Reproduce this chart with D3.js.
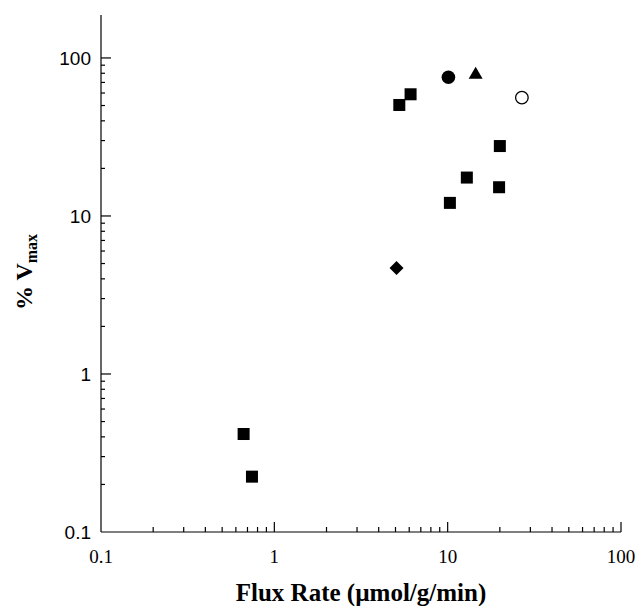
<!DOCTYPE html>
<html>
<head>
<meta charset="utf-8">
<script src="https://cdn.jsdelivr.net/npm/d3@7"></script>
<style>
  body { margin: 0; background: #fff; }
  svg { display: block; }
</style>
</head>
<body>
<div id="chart"></div>
<script>
// data (flux rate, % Vmax)
var squareFlux = [0.665, 0.743, 5.26, 6.11, 10.3, 12.9, 19.8, 20.0];
var squareVmax = [0.417, 0.224, 50.4, 58.9, 12.1, 17.5, 15.2, 27.7];
var filledCircleFlux = [10.1];
var filledCircleVmax = [75.5];
var triangleFlux = [14.5];
var triangleVmax = [80];
var openCircleFlux = [26.8];
var openCircleVmax = [56.1];
var diamondFlux = [5.07];
var diamondVmax = [4.69];

var xTicks = [0.1, 1, 10, 100];
var yTicks = [0.1, 1, 10, 100];

var width = 637, height = 606;

var svg = d3.select('#chart').append('svg')
  .attr('width', width)
  .attr('height', height);

var x = d3.scaleLog().domain([0.1, 100]).range([101, 621]);
var y = d3.scaleLog().domain([0.1, 187]).range([532, 15]);

// minor ticks 2..9 for each decade
function minors(lo, hi) {
  var out = [];
  for (var d = lo; d < hi; d *= 10) {
    for (var k = 2; k <= 9; k++) out.push(d * k);
  }
  return out;
}

var axes = svg.append('g').attr('stroke', '#000').attr('stroke-width', 1.2);

// axis lines
axes.append('line')
  .attr('x1', x(0.1)).attr('x2', x(0.1))
  .attr('y1', y.range()[1]).attr('y2', y(0.1));
axes.append('line')
  .attr('x1', x(0.1)).attr('x2', x(100))
  .attr('y1', y(0.1)).attr('y2', y(0.1));

// y ticks (pointing inward)
axes.selectAll('.ymaj').data(yTicks.slice(1)).enter().append('line')
  .attr('x1', x(0.1)).attr('x2', x(0.1) + 10)
  .attr('y1', function (d) { return y(d); })
  .attr('y2', function (d) { return y(d); });
axes.selectAll('.ymin').data(minors(0.1, 100)).enter().append('line')
  .attr('x1', x(0.1)).attr('x2', x(0.1) + 4)
  .attr('y1', function (d) { return y(d); })
  .attr('y2', function (d) { return y(d); });

// x ticks
axes.selectAll('.xmaj').data(xTicks.slice(1)).enter().append('line')
  .attr('x1', function (d) { return x(d); })
  .attr('x2', function (d) { return x(d); })
  .attr('y1', y(0.1)).attr('y2', y(0.1) - 10);
axes.selectAll('.xmin').data(minors(0.1, 100)).enter().append('line')
  .attr('x1', function (d) { return x(d); })
  .attr('x2', function (d) { return x(d); })
  .attr('y1', y(0.1)).attr('y2', y(0.1) - 5);

// tick labels
var fmt = function (d) { return d < 1 ? '0.1' : String(d); };
svg.selectAll('.ylab').data(yTicks).enter().append('text')
  .attr('x', 91)
  .attr('y', function (d) { return y(d) + 7; })
  .attr('text-anchor', 'end')
  .attr('font-family', 'Liberation Sans, Arial, sans-serif')
  .attr('font-size', 19)
  .text(fmt);

svg.selectAll('.xlab').data(xTicks).enter().append('text')
  .attr('x', function (d) { return x(d); })
  .attr('y', 563)
  .attr('text-anchor', 'middle')
  .attr('font-family', 'Liberation Serif, Times New Roman, serif')
  .attr('font-size', 19)
  .text(fmt);

// axis titles
svg.append('text')
  .attr('x', 361).attr('y', 601)
  .attr('text-anchor', 'middle')
  .attr('font-family', 'Liberation Serif, Times New Roman, serif')
  .attr('font-weight', 'bold')
  .attr('font-size', 25)
  .text('Flux Rate (\u00b5mol/g/min)');

var yt = svg.append('text')
  .attr('transform', 'translate(32,272) rotate(-90)')
  .attr('text-anchor', 'middle')
  .attr('font-family', 'Liberation Serif, Times New Roman, serif')
  .attr('font-weight', 'bold')
  .attr('font-size', 24);
yt.append('tspan').text('% V');
yt.append('tspan').attr('dy', 5).attr('font-size', 16).text('max');

// markers
var pts = svg.append('g');
function zip(a, b) { return a.map(function (v, i) { return [v, b[i]]; }); }

pts.selectAll('.sq').data(zip(squareFlux, squareVmax)).enter().append('rect')
  .attr('x', function (d) { return x(d[0]) - 6; })
  .attr('y', function (d) { return y(d[1]) - 6; })
  .attr('width', 12).attr('height', 12)
  .attr('fill', '#000');

pts.selectAll('.fc').data(zip(filledCircleFlux, filledCircleVmax)).enter().append('circle')
  .attr('cx', function (d) { return x(d[0]); })
  .attr('cy', function (d) { return y(d[1]); })
  .attr('r', 6.8).attr('fill', '#000');

pts.selectAll('.oc').data(zip(openCircleFlux, openCircleVmax)).enter().append('circle')
  .attr('cx', function (d) { return x(d[0]); })
  .attr('cy', function (d) { return y(d[1]); })
  .attr('r', 6.3).attr('fill', '#fff')
  .attr('stroke', '#000').attr('stroke-width', 1.3);

pts.selectAll('.tri').data(zip(triangleFlux, triangleVmax)).enter().append('path')
  .attr('d', function (d) {
    var cx = x(d[0]), cy = y(d[1]);
    return 'M' + cx + ',' + (cy - 6.5) + 'L' + (cx + 7) + ',' + (cy + 5.5) + 'L' + (cx - 7) + ',' + (cy + 5.5) + 'Z';
  })
  .attr('fill', '#000');

pts.selectAll('.dia').data(zip(diamondFlux, diamondVmax)).enter().append('path')
  .attr('d', function (d) {
    var cx = x(d[0]), cy = y(d[1]);
    return 'M' + cx + ',' + (cy - 7) + 'L' + (cx + 7) + ',' + cy + 'L' + cx + ',' + (cy + 7) + 'L' + (cx - 7) + ',' + cy + 'Z';
  })
  .attr('fill', '#000');
</script>
</body>
</html>
